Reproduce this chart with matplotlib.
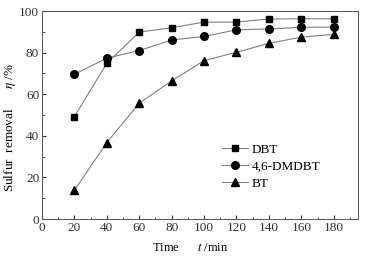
import matplotlib
matplotlib.use("Agg")
import matplotlib.pyplot as plt
from matplotlib.ticker import MultipleLocator

time = [20, 40, 60, 80, 100, 120, 140, 160, 180]
dbt = [49.3, 74.9, 89.9, 92.0, 94.7, 94.7, 96.2, 96.3, 96.3]
dmdbt = [69.6, 77.4, 81.0, 86.1, 87.8, 91.0, 91.4, 92.2, 92.3]
bt = [13.8, 36.8, 55.7, 66.4, 76.2, 80.2, 84.5, 87.5, 88.8]
labels = ["DBT", "4,6-DMDBT", "BT"]

plt.rcParams['font.family'] = ['Liberation Serif', 'DejaVu Serif']
plt.rcParams['mathtext.fontset'] = 'stix'

fs = 9.5
fig = plt.figure(figsize=(3.74, 2.58), dpi=100)
ax = fig.add_axes([0.1123, 0.151, 0.845, 0.806])

lc = '#808080'
ax.plot(time, dbt, '-', color=lc, lw=0.8, marker='s', mfc='black', mec='black', ms=5, label=labels[0])
ax.plot(time, dmdbt, '-', color=lc, lw=0.8, marker='o', mfc='black', mec='black', ms=5.5, label=labels[1])
ax.plot(time, bt, '-', color=lc, lw=0.8, marker='^', mfc='black', mec='black', ms=6, label=labels[2])

ax.set_xlim(0, 195)
ax.set_ylim(0, 100)
ax.xaxis.set_major_locator(MultipleLocator(20))
ax.xaxis.set_minor_locator(MultipleLocator(10))
ax.yaxis.set_major_locator(MultipleLocator(20))
ax.yaxis.set_minor_locator(MultipleLocator(10))
ax.tick_params(which='both', direction='in', labelsize=fs, colors='#333333', pad=2)
ax.tick_params(which='major', length=3)
ax.tick_params(which='minor', length=1.8)
for s in ax.spines.values():
    s.set_color('#555555')
    s.set_linewidth(0.7)

ax.set_xlabel("Time      $t$ /min", fontsize=9)
ax.set_ylabel("Sulfur  removal      $\\eta$ /%", fontsize=9.5)
ax.xaxis.set_label_coords(0.47, -0.11)
ax.yaxis.set_label_coords(-0.076, 0.44)

ax.legend(loc='center left', bbox_to_anchor=(0.552, 0.252), frameon=False, fontsize=fs,
          handlelength=2.0, handletextpad=0.3, labelspacing=0.35, borderaxespad=0)

fig.savefig("out.png", dpi=100)
